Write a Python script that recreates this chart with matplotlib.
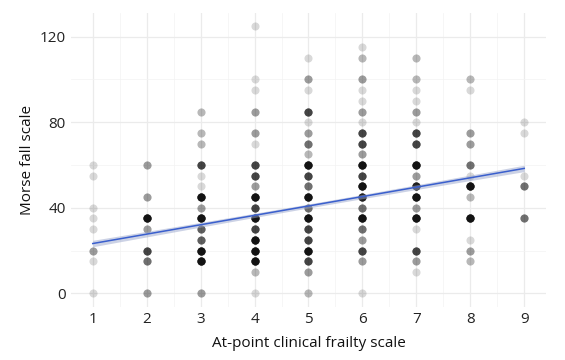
import numpy as np
import matplotlib.pyplot as plt

# frailty score per column, Morse values and how many patients share each (x, y)
frailty = [1, 2, 3, 4, 5, 6, 7, 8, 9]

morse = {
    1: [60, 55, 40, 35, 30, 20, 15, 0],
    2: [60, 45, 35, 30, 20, 15, 0],
    3: [85, 75, 70, 60, 55, 50, 45, 40, 35, 30, 25, 20, 15, 0],
    4: [125, 100, 95, 85, 75, 70, 60, 55, 50, 45, 40, 35, 30, 25, 20, 15, 10, 0],
    5: [110, 100, 95, 85, 80, 75, 70, 65, 60, 55, 50, 45, 40, 35, 30, 25, 20, 15, 10, 0],
    6: [115, 110, 100, 95, 90, 85, 80, 75, 70, 65, 60, 55, 50, 45, 40, 35, 30, 25, 20, 15, 0],
    7: [110, 100, 95, 90, 85, 80, 75, 70, 60, 55, 50, 45, 40, 35, 30, 20, 15, 10],
    8: [100, 95, 75, 70, 60, 55, 50, 45, 35, 25, 20, 15],
    9: [80, 75, 55, 50, 35],
}
counts = {
    1: [1, 1, 1, 1, 1, 3, 1, 1],
    2: [3, 3, 15, 3, 8, 5, 3],
    3: [2, 2, 2, 8, 1, 1, 15, 3, 15, 6, 6, 15, 15, 3],
    4: [1, 1, 1, 3, 3, 1, 8, 8, 3, 15, 8, 15, 8, 15, 15, 15, 2, 1],
    5: [1, 3, 1, 8, 1, 3, 5, 2, 15, 8, 5, 15, 5, 15, 8, 8, 15, 8, 3, 2],
    6: [1, 2, 3, 1, 1, 3, 1, 8, 8, 3, 15, 8, 15, 12, 5, 15, 5, 3, 8, 3, 1],
    7: [2, 2, 1, 1, 3, 1, 8, 8, 15, 3, 12, 15, 3, 15, 1, 8, 3, 1],
    8: [2, 1, 3, 3, 5, 1, 15, 2, 15, 1, 3, 2],
    9: [1, 1, 1, 5, 5],
}

# linear fit (full data set is larger than the visible dots)
fit_intercept = 18.9
fit_slope = 4.39
se_mid = 0.48   # standard error of the fit at x = 5
se_end = 0.77   # standard error at x = 1 and x = 9

x = np.concatenate([np.repeat(k, sum(counts[k])) for k in frailty]).astype(float)
y = np.concatenate([np.repeat(morse[k], counts[k]) for k in frailty]).astype(float)

xs = np.linspace(1, 9, 100)
fit = fit_intercept + fit_slope * xs
k = (se_end ** 2 - se_mid ** 2) / 16
se = np.sqrt(se_mid ** 2 + k * (xs - 5) ** 2)

plt.rcParams['font.family'] = ['Open Sans', 'DejaVu Sans']
fig, ax = plt.subplots(figsize=(5.65, 3.6), dpi=100)
fig.subplots_adjust(left=0.126, right=0.966, top=0.965, bottom=0.148)

ax.scatter(x, y, s=34, color='black', alpha=0.15, linewidths=0, zorder=2)
ax.fill_between(xs, fit - 1.96 * se, fit + 1.96 * se, color='#9aa6cc', alpha=0.5, linewidth=0, zorder=3)
ax.plot(xs, fit, color='#3a5fcd', lw=1.1, zorder=4)

ax.set_xlim(0.6, 9.4)
ax.set_ylim(-6.25, 131.25)
ax.set_xticks(frailty)
ax.set_yticks([0, 40, 80, 120])
ax.set_xticks(np.arange(1.5, 9, 1), minor=True)
ax.set_yticks([20, 60, 100], minor=True)
ax.grid(which='major', color='#ebebeb', lw=0.9)
ax.grid(which='minor', color='#f3f3f3', lw=0.5)
ax.set_axisbelow(True)
for sp in ax.spines.values():
    sp.set_visible(False)
ax.tick_params(which='both', length=0, labelsize=11, labelcolor='#222222', pad=4)

ax.set_xlabel('At-point clinical frailty scale', fontsize=11, color='#111111', labelpad=6)
ax.set_ylabel('Morse fall scale', fontsize=11, color='#111111', labelpad=3)

fig.savefig('out.png', dpi=100)
